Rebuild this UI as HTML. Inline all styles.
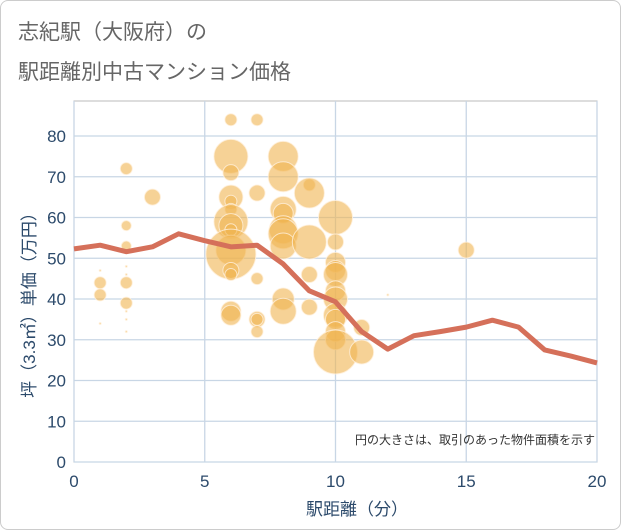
<!DOCTYPE html>
<html><head><meta charset="utf-8"><style>
body{margin:0;background:#fff;font-family:"Liberation Sans","Noto Sans CJK JP",sans-serif}
#wrap{position:relative;width:619px;height:528px;border:1px solid #ccc;border-radius:8px;overflow:hidden}
</style></head><body>
<div id="wrap">
<svg id="chart" width="619" height="528" xmlns="http://www.w3.org/2000/svg">
<text x="17" y="38" font-size="21" fill="#666" font-family="Liberation Sans,Noto Sans CJK JP,sans-serif">志紀駅（大阪府）の</text>
<text x="17" y="78" font-size="21" fill="#666" font-family="Liberation Sans,Noto Sans CJK JP,sans-serif">駅距離別中古マンション価格</text>
<g id="grid"></g><g id="bubbles"></g><g id="line"></g><g id="axes"></g>
<text x="594" y="443" font-size="12" fill="#333" text-anchor="end" font-family="Liberation Sans,Noto Sans CJK JP,sans-serif">円の大きさは、取引のあった物件面積を示す</text>
<text x="356" y="514" font-size="17" fill="#2c4a6b" text-anchor="middle" font-family="Liberation Sans,Noto Sans CJK JP,sans-serif">駅距離（分）</text>
<text transform="translate(34,300) rotate(-90)" font-size="17" fill="#2c4a6b" text-anchor="middle" font-family="Liberation Sans,Noto Sans CJK JP,sans-serif">坪（3.3㎡）単価（万円）</text>
</svg></div>
<script>
const xTicks=[0,5,10,15,20];
const yTicks=[0,10,20,30,40,50,60,70,80];
const lineX=[0,1,2,3,4,5,6,7,8,9,10,11,12,13,14,15,16,17,18,19,20];
const lineY=[52.3,53.2,51.6,52.8,56,54.3,52.8,53.2,48.6,42,39.3,32,27.7,31,32,33.1,34.8,33.1,27.5,26,24.3];
const bubX=[1,1,1,1,2,2,2,2,2,2,2,2,2,2,3,6,6,6,6,6,6,6,6,6,6,6,6,6,6,6,7,7,7,7,7,7,8,8,8,8,8,8,8,8,8,9,9,9,9,9,10,10,10,10,10,10,10,10,10,10,10,10,11,11,12,15];
const bubY=[44,41,47,34,72,58,53,44,39,48,46,37,35,32,65,84,75,71,65,64,62,59,58,57,52,51,47,46,37,36,84,66,45,35,35,32,75,70,62,61,57,56,53,40,37,68,66,54,46,38,60,54,49,47,46,42,40,36,35,32,30,27,33,27,41,52];
const bubR=[6,6,1,1,6,5,5,6,6,1,1,1,1,1,8,6,17,8,12,6,6,17,12,6,15,25,8,6,10,10,6,8,6,8,6,6,15,15,13,10,14,15,13,11,13,6,15,17,8,8,17,8,10,10,12,10,12,12,10,10,10,22,8,12,1,8];
const L=73,R=596,T=100,B=461;
const sx=v=>L+(v-0)/20*(R-L);
const sy=v=>B-v/85*(B-T)*1.0+0;
const ns="http://www.w3.org/2000/svg";
function mk(t,a,p){const e=document.createElementNS(ns,t);for(const k in a)e.setAttribute(k,a[k]);p.appendChild(e);return e;}
const sy2=v=>B-v*4.075;
const G=document.getElementById('grid'),A=document.getElementById('axes'),Bb=document.getElementById('bubbles'),Ln=document.getElementById('line');
mk('rect',{x:L,y:T,width:R-L,height:B-T,fill:'none',stroke:'#bbb'},G);
yTicks.forEach(v=>{const y=sy2(v);
const g=mk('line',{x1:L,x2:R,y1:y,y2:y,stroke:'#c8d6e5','stroke-width':1.3},G);


const t=mk('text',{x:L-8,y:y+6,'font-size':17,fill:'#2c4a6b','text-anchor':'end'},A);t.textContent=v;

});
xTicks.forEach(v=>{const x=sx(v);
const g=mk('line',{x1:x,x2:x,y1:T,y2:B,stroke:'#c8d6e5','stroke-width':1.3},G);


const t=mk('text',{x:x,y:B+25,'font-size':17,fill:'#2c4a6b','text-anchor':'middle'},A);t.textContent=v;

});
bubX.forEach((v,i)=>{const c=mk('circle',{cx:sx(v),cy:sy2(bubY[i]),r:bubR[i],fill:'rgba(240,180,80,0.6)',stroke:'rgba(255,240,220,0.8)','stroke-width':1},Bb);

});
const p=mk('polyline',{points:lineX.map((v,i)=>sx(v)+','+sy2(lineY[i])).join(' '),fill:'none',stroke:'#d5705a','stroke-width':5,'stroke-linejoin':'round'},Ln);


</script>
</body></html>
